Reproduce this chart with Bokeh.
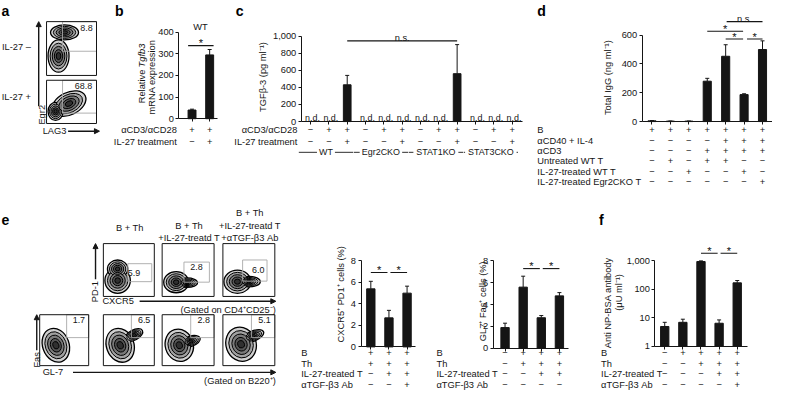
import math
from bokeh.plotting import figure
from bokeh.models import (Range1d, LinearAxis, LogAxis, FixedTicker, NumeralTickFormatter,
                          LinearScale, Whisker, ColumnDataSource, Arrow, NormalHead, TeeHead,
                          CustomJSTickFormatter)
from bokeh.layouts import row, column
from bokeh.embed import file_html
from bokeh.resources import INLINE
from bokeh.core.properties import value

# ---------------- data ----------------
b_rows = ["αCD3/αCD28", "IL-27 treatment"]
b_signs = [["+", "+"], ["−", "+"]]
b_vals = [40, 295]
b_err = [4, 25]

c_rows = ["αCD3/αCD28", "IL-27 treatment"]
c_signs = [["−", "+", "+"] * 4, ["−", "−", "+"] * 4]
c_vals = [None, None, 430, None, None, None, None, None, 560, None, None, None]
c_err = [0, 0, 110, 0, 0, 0, 0, 0, 340, 0, 0, 0]
c_groups = ["WT", "Egr2CKO", "STAT1KO", "STAT3CKO"]

d_rows = ["B", "αCD40 + IL-4", "αCD3", "Untreated WT T", "IL-27-treated WT T",
          "IL-27-treated Egr2CKO T"]
d_signs = [["+", "+", "+", "+", "+", "+", "+"],
           ["−", "−", "−", "−", "+", "+", "+"],
           ["−", "−", "−", "+", "+", "+", "+"],
           ["−", "+", "−", "+", "+", "−", "−"],
           ["−", "−", "+", "−", "−", "+", "−"],
           ["−", "−", "−", "−", "−", "−", "+"]]
d_vals = [5, 3, 3, 280, 453, 187, 500]
d_err = [2, 1, 1, 20, 80, 6, 60]

e_rows = ["B", "Th", "IL-27-treated T", "αTGF-β3 Ab"]
e1_signs = [["+", "+", "+"], ["+", "+", "+"], ["−", "+", "+"], ["−", "−", "+"]]
e1_vals = [5.4, 2.7, 5.0]
e1_err = [0.7, 0.7, 0.65]
e2_signs = [["−", "+", "+", "+"], ["−", "+", "+", "+"], ["−", "−", "+", "+"],
            ["−", "−", "−", "−"]]
e2_vals = [1.9, 5.6, 2.8, 4.8]
e2_err = [0.4, 1.0, 0.2, 0.3]
f_signs = [["−", "+", "+", "+", "+"], ["−", "−", "+", "+", "+"],
           ["−", "−", "−", "+", "+"], ["−", "−", "−", "−", "+"]]
f_vals = [5, 7, 950, 6.5, 170]
f_upper = [7, 9, 1000, 8.5, 205]

a_rowlabels = ["IL-27 –", "IL-27 +"]
a_numbers = ["8.8", "68.8"]
e_titles = [["B + Th"], ["B + Th", "+IL-27-treatd T"],
            ["B + Th", "+IL-27-treatd T", "+αTGF-β3 Ab"]]
e_top_numbers = ["5.9", "2.8", "6.0"]
e_bot_numbers = ["1.7", "6.5", "2.8", "5.1"]

# flow contour blobs: (u centre, v centre, u radius, v radius, angle) in box units
a_blobs = [[(0.24, 0.36, 0.21, 0.30, 0.0), (0.36, 0.80, 0.28, 0.14, 0.0)],
           [(0.45, 0.46, 0.36, 0.26, 0.45), (0.18, 0.28, 0.15, 0.21, 0.0)]]
e_top_blobs = [[(0.28, 0.30, 0.25, 0.24, 0.0), (0.28, 0.52, 0.20, 0.17, 0.0)],
               [(0.27, 0.27, 0.24, 0.20, 0.0), (0.48, 0.26, 0.20, 0.09, 0.0)],
               [(0.28, 0.28, 0.26, 0.22, 0.0), (0.50, 0.28, 0.22, 0.10, 0.0)]]
e_bot_blobs = [[(0.33, 0.40, 0.27, 0.34, 0.35)],
               [(0.33, 0.40, 0.27, 0.34, 0.35), (0.60, 0.60, 0.19, 0.10, 0.5)],
               [(0.33, 0.40, 0.27, 0.32, 0.30), (0.55, 0.48, 0.19, 0.10, 0.3)],
               [(0.35, 0.42, 0.29, 0.34, 0.35), (0.58, 0.58, 0.22, 0.10, 0.4)]]

# ---------------- layout constants ----------------
W, H = 772, 393
RW, RH = 788, 409
SX, SY = W / RW, H / RH
SC = (SX + SY) / 2
INK = "#151515"
GATE = "#a8a8a8"
FONT = "Liberation Sans"
FS = 9.6
LEVELS = [1.0, 0.8, 0.6, 0.4, 0.22]
FILLS = ["#cfcfcf", "#a0a0a0", "#7a7a7a", "#555555", "#303030"]

_W = {}
for chars, wv in [("ijl'", .222), ("ftI .,:;", .278), ("r()-[]⁺⁻¹", .333),
                  ("Jcksvxyz*", .5), ("abdeghnopqu0123456789+−–β#μ", .556),
                  ("FTZL", .611), ("ABEKPSVXY", .667), ("CDHNRUw", .722),
                  ("GOQ", .778), ("Mm", .833), ("%", .889), ("W", .944)]:
    for ch in chars:
        _W[ch] = wv


def tw(s, size=FS):
    return sum(_W.get(ch, .556) for ch in s) * size


def make_panel(x0, x1, y0, y1, log=False):
    px0, px1 = round(x0 * SX), round(x1 * SX)
    py0, py1 = round(y0 * SY), round(y1 * SY)
    rx0, rx1, ry0, ry1 = px0 / SX, px1 / SX, py0 / SY, py1 / SY
    p = figure(width=px1 - px0, height=py1 - py0, output_backend="svg",
               toolbar_location=None, x_axis_location=None, y_axis_location=None,
               min_border=0, title=None, y_axis_type="log" if log else "linear",
               x_range=Range1d(rx0, rx1),
               y_range=Range1d(1, 10) if log else Range1d(ry1, ry0))
    p.extra_x_ranges = {"px": Range1d(rx0, rx1)}
    p.extra_y_ranges = {"py": Range1d(ry1, ry0)}
    if log:
        p.extra_y_scales = {"py": LinearScale()}
    p.outline_line_color = None
    p.background_fill_color = "white"
    p.border_fill_color = "white"
    p.xgrid.visible = False
    p.ygrid.visible = False
    return p, (rx0, rx1, ry0, ry1)


def texts(p, xs, ys, ss, size=FS, align="center", baseline="middle", angle=0.0,
          style="normal", color=INK, xr="px", yr="py"):
    src = ColumnDataSource(dict(x=list(xs), y=list(ys), t=list(ss)))
    p.text(x="x", y="y", text="t", source=src, x_range_name=xr, y_range_name=yr,
           text_font=value(FONT), text_font_size=f"{size * SC:.2f}px",
           text_align=align, text_baseline=baseline, angle=angle,
           text_color=color, text_font_style=style)


def vtext(p, x, yc, parts, size=FS):
    # vertical text (reading upwards) centred on yc; parts = [(text, style), ...]
    total = sum(tw(t, size) for t, s in parts)
    y = yc + total / 2
    for t, s in parts:
        texts(p, [x], [y], [t], size=size, align="left", angle=math.pi / 2, style=s)
        y -= tw(t, size)


def segs(p, x0, y0, x1, y1, color=INK, width=1.0, xr="px", yr="py"):
    p.segment(x0=list(x0), y0=list(y0), x1=list(x1), y1=list(y1), x_range_name=xr,
              y_range_name=yr, line_color=color, line_width=width)


def letter(p, s, x, y):
    texts(p, [x], [y], [s], size=14.5, align="left", baseline="alphabetic", style="bold",
          color="#000000")


def arrow(p, xs, ys, xe, ye):
    p.add_layout(Arrow(end=NormalHead(size=5, fill_color=INK, line_color=INK, line_width=1),
                       x_start=xs, y_start=ys, x_end=xe, y_end=ye, x_range_name="px",
                       y_range_name="py", line_color=INK, line_width=1.4))


def setup_bars(p, box, axis_x, col0, dx, ya, yb, log=False):
    rx0, rx1, ry0, ry1 = box
    p.x_range = Range1d((rx0 - col0) / dx, (rx1 - col0) / dx)
    (va, pa), (vb, pb) = ya, yb
    if log:
        va, vb = math.log10(va), math.log10(vb)
    k = (vb - va) / (pb - pa)
    lo, hi = va + (ry1 - pa) * k, va + (ry0 - pa) * k
    if log:
        lo, hi = 10 ** lo, 10 ** hi
    p.y_range = Range1d(lo, hi)
    return (axis_x - col0) / dx


def style_axis(ax):
    ax.axis_line_color = INK
    ax.axis_line_width = 1
    ax.major_tick_line_color = INK
    ax.major_tick_out = 3
    ax.major_tick_in = 0
    ax.minor_tick_line_color = None
    ax.major_label_text_font = FONT
    ax.major_label_text_font_size = f"{FS * SC:.2f}px"
    ax.major_label_text_color = INK
    ax.major_label_standoff = 2


def yaxis(p, ticks, xloc, log=False):
    cls = LogAxis if log else LinearAxis
    ax = cls(ticker=FixedTicker(ticks=ticks), formatter=NumeralTickFormatter(format="0,0"),
             bounds=(ticks[0], ticks[-1]), fixed_location=xloc)
    style_axis(ax)
    p.add_layout(ax, "left")


def xbase(p, n, start, end, loc):
    ax = LinearAxis(ticker=FixedTicker(ticks=list(range(n))),
                    formatter=CustomJSTickFormatter(code="return ''"),
                    bounds=(start, end), fixed_location=loc)
    style_axis(ax)
    p.add_layout(ax, "below")


def bars(p, vals, uppers, width, bottom=0):
    xs = [i for i, v in enumerate(vals) if v is not None]
    src = ColumnDataSource(dict(x=xs, top=[vals[i] for i in xs], up=[uppers[i] for i in xs]))
    p.vbar(x="x", top="top", bottom=bottom, width=width, source=src,
           fill_color=INK, line_color=INK)
    p.add_layout(Whisker(source=src, base="x", lower="top", upper="up", dimension="height",
                         line_color=INK, line_width=1, lower_head=None,
                         upper_head=TeeHead(size=4, line_color=INK, line_width=1)))


def table(p, rows, signs, ys, label_x, align):
    texts(p, [label_x] * len(rows), ys, rows, align=align)
    xs, yy, ss = [], [], []
    for r, y in zip(signs, ys):
        for i, s in enumerate(r):
            xs.append(i)
            yy.append(y)
            ss.append(s)
    texts(p, xs, yy, ss, xr="default")


def sig(p, items, dx):
    # items: (i, j, label, y_line, ext_left_px, ext_right_px)
    x0 = [i - el / dx for i, j, t, y, el, er in items]
    x1 = [j + er / dx for i, j, t, y, el, er in items]
    ys = [it[3] for it in items]
    segs(p, x0, ys, x1, ys, width=1.1, xr="default")
    for (i, j, t, y, el, er), a, b in zip(items, x0, x1):
        if t == "*":
            texts(p, [(a + b) / 2], [y - 2.5], [t], size=11.5, baseline="middle", xr="default")
        else:
            texts(p, [(a + b) / 2], [y - 2.5], [t], size=FS, baseline="alphabetic", xr="default")


def flow(p, box, blobs, gate, number, num_uv):
    bx0, by0, bx1, by1 = box
    bw, bh = bx1 - bx0, by1 - by0
    for lev, col in zip(LEVELS, FILLS):
        xs = [bx0 + b[0] * bw for b in blobs]
        ys = [by1 - b[1] * bh for b in blobs]
        ws = [2 * b[2] * bw * lev for b in blobs]
        hs = [2 * b[3] * bh * lev for b in blobs]
        an = [b[4] for b in blobs]
        p.ellipse(x=xs, y=ys, width=ws, height=hs, angle=an, x_range_name="px",
                  y_range_name="py", fill_color=col, line_color="#000000",
                  line_width=1.3 if lev == 1.0 else 1.0)
    gu0, gu1, gv0, gv1 = gate
    p.quad(left=[bx0 + gu0 * bw], right=[bx0 + gu1 * bw], bottom=[by1 - gv0 * bh],
           top=[by1 - gv1 * bh], x_range_name="px", y_range_name="py",
           fill_color=None, line_color=GATE, line_width=0.9)
    p.quad(left=[bx0], right=[bx1], bottom=[by1], top=[by0], x_range_name="px",
           y_range_name="py", fill_color=None, line_color=INK, line_width=1)
    texts(p, [bx0 + num_uv[0] * bw], [by1 - num_uv[1] * bh], [number], size=9.2)


# ================= panel a =================
pA, bxA = make_panel(0, 110, 0, 205)
letter(pA, "a", 1, 10.5)
a_boxes = [(47, 22, 98, 78), (47, 83, 98, 128)]
a_gates = [(0.32, 1.0, 0.45, 1.0), (0.32, 1.0, 0.24, 1.0)]
a_nums_uv = [(0.80, 0.88), (0.74, 0.86)]
for k in range(2):
    flow(pA, a_boxes[k], a_blobs[k], a_gates[k], a_numbers[k], a_nums_uv[k])
texts(pA, [31, 31], [48, 100], a_rowlabels, align="right")
arrow(pA, 39, 110, 39, 22)
vtext(pA, 42, 119, [("Egr2", "normal")])
texts(pA, [43], [136], ["LAG3"], align="left")
arrow(pA, 69, 136, 101, 136)

# ================= panel b =================
pB, bxB = make_panel(110, 236, 0, 205)
letter(pB, "b", 117, 10.5)
B0, BDX = 195.5, 18
axB = setup_bars(pB, bxB, 182, B0, BDX, (0, 123), (400, 33))
bars(pB, b_vals, [v + e for v, e in zip(b_vals, b_err)], 0.45)
yaxis(pB, [0, 100, 200, 300, 400], axB)
xbase(pB, 2, axB, (222 - B0) / BDX, 0)
texts(pB, [204], [28], ["WT"])
sig(pB, [(0, 1, "*", 47, 4, 4)], BDX)
vtext(pB, 144, 76, [("Relative ", "normal"), ("Tgfb3", "italic")])
vtext(pB, 155, 80, [("mRNA expression", "normal")])
table(pB, b_rows, b_signs, [135, 147], 180, "right")

# ================= panel c =================
pC, bxC = make_panel(236, 538, 0, 205)
letter(pC, "c", 240, 10.5)
C0, CDX = 316.5, 18.7
axC = setup_bars(pC, bxC, 307, C0, CDX, (0, 126), (1000, 37))
bars(pC, c_vals, [(v or 0) + e for v, e in zip(c_vals, c_err)], 0.42)
yaxis(pC, [0, 200, 400, 600, 800, 1000], axC)
xbase(pC, 12, axC, (533 - C0) / CDX, 0)
nd = [i + 2 / CDX for i, v in enumerate(c_vals) if v is None]
texts(pC, nd, [122] * len(nd), ["n.d."] * len(nd), size=9.2, baseline="alphabetic",
      xr="default")
sig(pC, [(2, 8, "n.s.", 42, 0, 0)], CDX)
vtext(pC, 268, 80, [("TGFβ-3 (pg ml⁻¹)", "normal")])
table(pC, c_rows, c_signs, [135, 147], 303, "right")
gx0, gx1, gy, gl, gt = [], [], [], [], []
for k, g in enumerate(c_groups):
    left = C0 + 3 * k * CDX - 12
    right = C0 + (3 * k + 2) * CDX + 6
    mid = (left + right) / 2
    half = tw(g, 9.2) / 2 + 2
    gx0 += [left, mid + half]
    gx1 += [mid - half, right]
    gy += [158, 158]
    gl.append(mid)
    gt.append(g)
segs(pC, gx0, gy, gx1, gy, width=0.9)
texts(pC, gl, [158] * 4, gt, size=9.2)

# ================= panel d =================
pD, bxD = make_panel(538, 788, 0, 205)
letter(pD, "d", 548, 10.5)
D0, DDX = 665, 18.8
axD = setup_bars(pD, bxD, 655, D0, DDX, (0, 126), (600, 36))
bars(pD, d_vals, [v + e for v, e in zip(d_vals, d_err)], 0.44)
yaxis(pD, [0, 200, 400, 600], axD)
xbase(pD, 7, axD, (800 - D0) / DDX, 0)
sig(pD, [(3, 5, "*", 32, 0, -1), (4, 5, "*", 40, 0, -1), (5, 6, "*", 40, -3, 0),
         (4, 6, "n.s.", 22, -1, 0)], DDX)
vtext(pD, 620, 80, [("Total IgG (ng ml⁻¹)", "normal")])
table(pD, d_rows, d_signs, [135, 146, 156.5, 167, 178, 189], 548, "left")

# ================= panel e (flow) =================
pE, bxE = make_panel(0, 296, 205, 409)
letter(pE, "e", 1, 228)
top_boxes = [(105, 253, 157, 308), (165, 253, 218, 308), (227, 253, 280, 308)]
bot_boxes = [(40, 327, 90, 380), (105, 327, 157, 380), (165, 327, 218, 380),
             (227, 327, 280, 380)]
top_gates = [(0.48, 0.95, 0.28, 0.62), (0.42, 0.91, 0.27, 0.65), (0.38, 0.85, 0.29, 0.69)]
top_nums_uv = [(0.60, 0.45), (0.66, 0.56), (0.68, 0.50)]
for k in range(3):
    flow(pE, top_boxes[k], e_top_blobs[k], top_gates[k], e_top_numbers[k], top_nums_uv[k])
    bx0, _, bx1, _ = top_boxes[k]
    lines = e_titles[k]
    n = len(lines)
    ys = [247 - 12.8 * (n - 1 - i) for i in range(n)]
    if n == 1:
        ys = [237]
    texts(pE, [(bx0 + bx1) / 2 + 1] * n, ys, lines)
for k in range(4):
    flow(pE, bot_boxes[k], e_bot_blobs[k], (0.55, 1.0, 0.55, 1.0), e_bot_numbers[k],
         (0.80, 0.90))
arrow(pE, 97, 290, 97, 253)
vtext(pE, 96, 303, [("PD-1", "normal")])
texts(pE, [104], [313], ["CXCR5"], align="left")
arrow(pE, 142, 313, 281, 313)
texts(pE, [281], [322], ["(Gated on CD4⁺CD25⁻)"], align="right")
arrow(pE, 37, 364, 37, 327)
vtext(pE, 37, 374, [("Fas", "normal")])
texts(pE, [43], [387], ["GL-7"], align="left")
arrow(pE, 74, 387, 281, 387)
texts(pE, [281], [396], ["(Gated on B220⁺)"], align="right")

# ================= panel e bars 1 =================
pE1, bxE1 = make_panel(296, 432, 205, 409)
E10, E1DX = 378, 18.5
axE1 = setup_bars(pE1, bxE1, 368, E10, E1DX, (0, 360.5), (8, 271))
bars(pE1, e1_vals, [v + e for v, e in zip(e1_vals, e1_err)], 0.46)
yaxis(pE1, [0, 2, 4, 6, 8], axE1)
xbase(pE1, 3, axE1, (424 - E10) / E1DX, 0)
sig(pE1, [(0, 1, "*", 283, 0, -1.5), (1, 2, "*", 283, -1.5, 0)], E1DX)
vtext(pE1, 348, 306, [("CXCR5⁺ PD1⁺ cells (%)", "normal")])
table(pE1, e_rows, e1_signs, [367, 378, 389, 400], 307, "left")

# ================= panel e bars 2 =================
pE2, bxE2 = make_panel(432, 598, 205, 409)
E20, E2DX = 515, 18.5
axE2 = setup_bars(pE2, bxE2, 503, E20, E2DX, (0, 362), (8, 271))
bars(pE2, e2_vals, [v + e for v, e in zip(e2_vals, e2_err)], 0.46)
yaxis(pE2, [0, 2, 4, 6, 8], axE2)
xbase(pE2, 4, axE2, (580 - E20) / E2DX, 0)
sig(pE2, [(1, 2, "*", 279, 0, -1.5), (2, 3, "*", 279, -1.5, 0)], E2DX)
vtext(pE2, 492, 313, [("GL7⁺ Fas⁺ cells (%)", "normal")])
table(pE2, e_rows, e2_signs, [367, 378, 389, 400], 445, "left")

# ================= panel f =================
pF, bxF = make_panel(598, 788, 205, 409, log=True)
letter(pF, "f", 611, 228)
F0, FDX = 678, 18.5
axF = setup_bars(pF, bxF, 668, F0, FDX, (1, 360), (1000, 271), log=True)
bars(pF, f_vals, f_upper, 0.46, bottom=1)
yaxis(pF, [1, 10, 100, 1000], axF, log=True)
xbase(pF, 5, axF, (762 - F0) / FDX, 1)
sig(pF, [(2, 3, "*", 263, 0, -1.5), (3, 4, "*", 263, -1.5, 0)], FDX)
vtext(pF, 620, 315, [("Anti NP-BSA antibody", "normal")])
vtext(pF, 631, 304, [("(μU ml⁻¹)", "normal")])
table(pF, e_rows, f_signs, [367, 378, 389, 400], 613, "left")

layout = column(row(pA, pB, pC, pD, spacing=0), row(pE, pE1, pE2, pF, spacing=0), spacing=0)
open("out.html", "w").write(file_html(layout, INLINE))
